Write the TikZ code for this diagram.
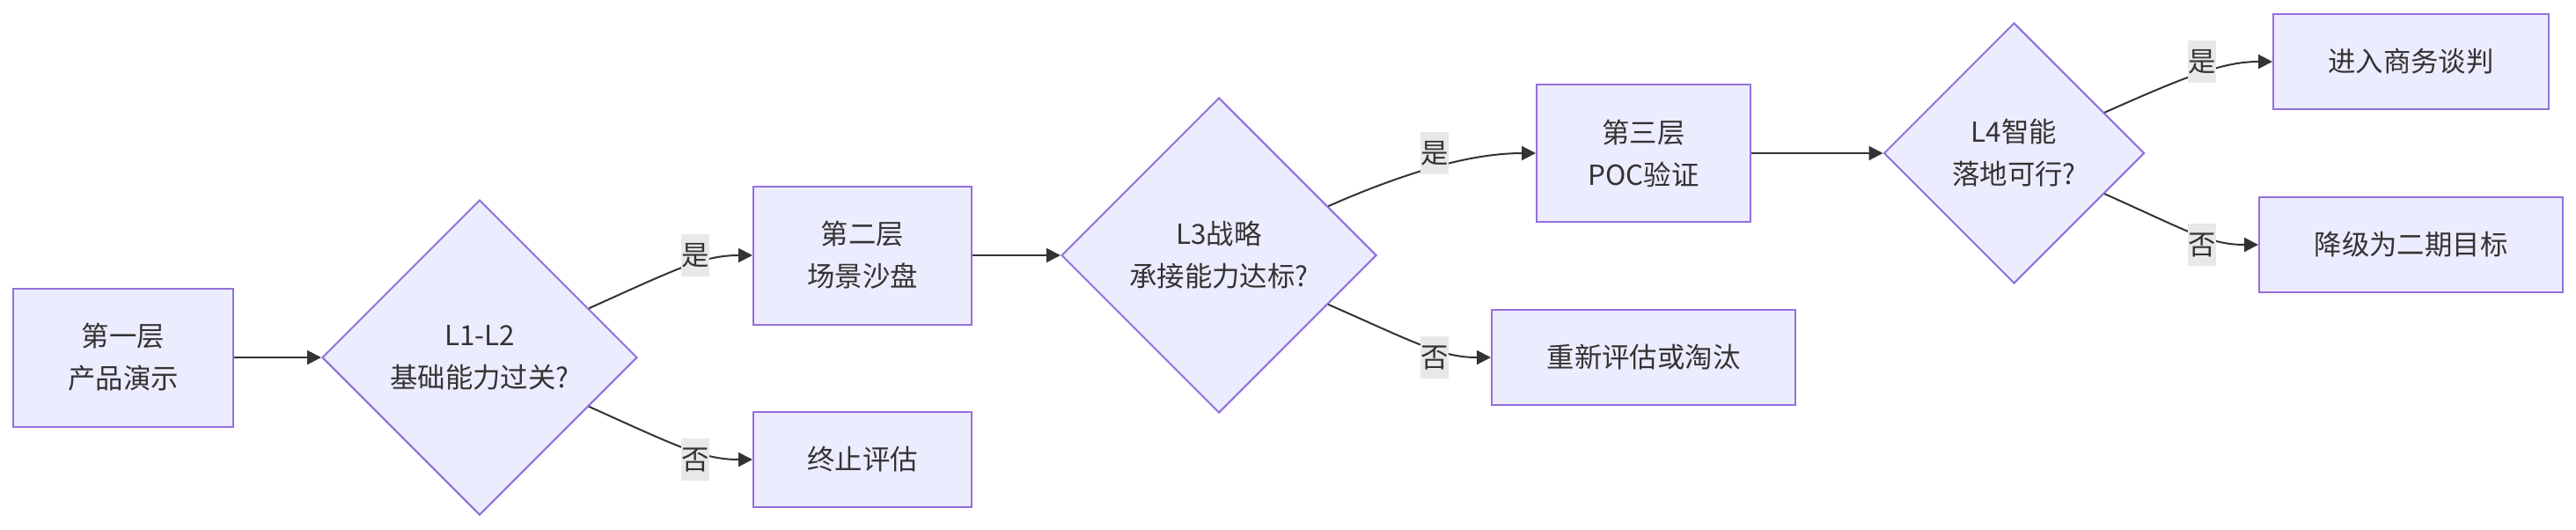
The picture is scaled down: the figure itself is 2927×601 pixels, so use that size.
\documentclass[tikz,border=0pt]{standalone}
\usepackage{fontspec}
\setmainfont{Noto Sans CJK SC}
\usetikzlibrary{shapes.geometric,arrows.meta,calc}
\definecolor{nodefill}{HTML}{ECECFF}
\definecolor{nodeline}{HTML}{9370DB}
\definecolor{edgecol}{HTML}{333333}
\definecolor{labfill}{HTML}{E8E8E8}
\begin{document}
\begin{tikzpicture}[x=0.5pt,y=-0.5pt,
  every node/.style={font=\fontsize{15.7}{24}\selectfont, text=edgecol},
  procbox/.style={draw=nodeline, fill=nodefill, line width=1pt, inner sep=0pt, align=center},
  decision/.style={diamond, draw=nodeline, fill=nodefill, line width=1pt, inner sep=0pt, align=center, aspect=1},
  edgelab/.style={fill=labfill, inner sep=0pt, minimum width=16pt, minimum height=24pt},
  flow/.style={draw=edgecol, line width=1pt, -{Triangle[length=8pt,width=8pt]}},
]
\useasboundingbox (0,0) rectangle (2927,601);

% nodes
\node[procbox, minimum width=125pt, minimum height=78.5pt] (a) at (140,406) {第一层\\产品演示};
\node[decision, minimum width=179pt, minimum height=179pt] (d1) at (545,406) {L1-L2\\基础能力过关?};
\node[procbox, minimum width=124pt, minimum height=78.5pt] (b) at (980,290) {第二层\\场景沙盘};
\node[procbox, minimum width=124pt, minimum height=54pt] (stop) at (980,522) {终止评估};
\node[decision, minimum width=179pt, minimum height=179pt] (d2) at (1385,290) {L3战略\\承接能力达标?};
\node[procbox, minimum width=121.5pt, minimum height=78pt] (c) at (1867.5,174) {第三层\\POC验证};
\node[procbox, minimum width=172.5pt, minimum height=54pt] (reeval) at (1867.5,406) {重新评估或淘汰};
\node[decision, minimum width=148pt, minimum height=148pt] (d3) at (2288.5,174) {L4智能\\落地可行?};
\node[procbox, minimum width=156.5pt, minimum height=54pt] (deal) at (2739.5,70) {进入商务谈判};
\node[procbox, minimum width=172.5pt, minimum height=54pt] (phase2) at (2739.5,278) {降级为二期目标};

% start points on the diamonds
\coordinate (d1ne) at ($(d1.east)!0.31!(d1.north)$);
\coordinate (d1se) at ($(d1.east)!0.31!(d1.south)$);
\coordinate (d2ne) at ($(d2.east)!0.31!(d2.north)$);
\coordinate (d2se) at ($(d2.east)!0.31!(d2.south)$);
\coordinate (d3ne) at ($(d3.east)!0.31!(d3.north)$);
\coordinate (d3se) at ($(d3.east)!0.31!(d3.south)$);

% straight connectors
\draw[flow] (a.east) -- (d1.west);
\draw[flow] (b.east) -- (d2.west);
\draw[flow] (c.east) -- (d3.west);

% curved connectors
\draw[flow] (d1ne) .. controls ($(d1ne)+(100,-45)$) and ($(b.west)+(-56,0)$) .. (b.west);
\draw[flow] (d1se) .. controls ($(d1se)+(100,45)$) and ($(stop.west)+(-56,0)$) .. (stop.west);
\draw[flow] (d2ne) .. controls ($(d2ne)+(100,-44)$) and ($(c.west)+(-66,0)$) .. (c.west);
\draw[flow] (d2se) .. controls ($(d2se)+(100,44)$) and ($(reeval.west)+(-56,0)$) .. (reeval.west);
\draw[flow] (d3ne) .. controls ($(d3ne)+(92,-41)$) and ($(deal.west)+(-56,0)$) .. (deal.west);
\draw[flow] (d3se) .. controls ($(d3se)+(92,41)$) and ($(phase2.west)+(-56,0)$) .. (phase2.west);

% edge labels
\node[edgelab] (l1y) at (790,290) {是};
\node[edgelab] (l1n) at (790,522) {否};
\node[edgelab] (l2y) at (1630,174) {是};
\node[edgelab] (l2n) at (1630,406) {否};
\node[edgelab] (l3y) at (2502,70) {是};
\node[edgelab] (l3n) at (2502,278) {否};
\end{tikzpicture}
\end{document}
